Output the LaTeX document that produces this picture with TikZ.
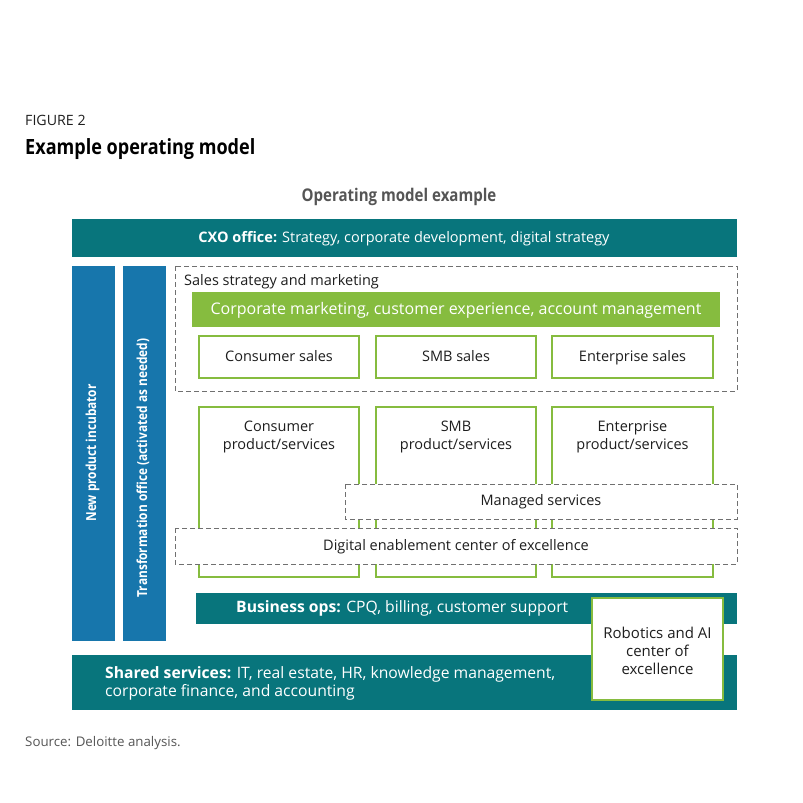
\documentclass[tikz,border=0pt]{standalone}
\usepackage{fontspec}
\setmainfont{Open Sans}
\newfontfamily\condb{Open Sans}[FakeStretch=0.86]
\usetikzlibrary{calc}
\definecolor{teal}{HTML}{08757C}
\definecolor{dblue}{HTML}{1776AC}
\definecolor{lgreen}{HTML}{86BC3F}
\definecolor{txt}{HTML}{1E1E1E}
\definecolor{gtxt}{HTML}{555555}
\definecolor{dash}{HTML}{707070}
\newcommand{\bl}[1]{{\bfseries #1}}
\tikzset{
  bar/.style={fill=teal, draw=none, text=white},
  vbar/.style={fill=dblue, draw=none, text=white},
  gbox/.style={draw=lgreen, line width=1.8pt, fill=white, text=txt},
  dbox/.style={draw=dash, dashed, dash pattern=on 5pt off 3pt, line width=0.9pt, fill=white, text=txt},
  lab/.style={font=\fontsize{14.5}{18}\selectfont, text=txt},
  one/.style={text height=1.0em, text depth=0.1em},
  vtext/.style={text=white, rotate=90, font=\fontsize{13.8}{17}\condb\bfseries, text height=0.75em, text depth=0.22em},
}
\begin{document}
\begin{tikzpicture}[x=1pt,y=-1pt]
\useasboundingbox (0,0) rectangle (803,803);
% titles
\node[anchor=west, inner sep=0, text=txt, font=\fontsize{14.2}{16}\selectfont, one] (fig) at (25,121) {FIGURE 2};
\node[anchor=west, inner sep=0, text=black, font=\fontsize{21}{25}\condb\bfseries, one] (title) at (25,150) {Example operating model};
\node[text=gtxt, font=\fontsize{17.5}{20}\condb\bfseries, one] (sub) at (399,197) {Operating model example};
% CXO
\path[bar] (72,219) rectangle (737,257);
\node[text=white, font=\fontsize{14.5}{17}\selectfont, one] (cxo) at (404,238) {\bl{CXO office:} Strategy, corporate development, digital strategy};
% vertical bars
\path[vbar] (72,266) rectangle (115,641);
\node[vtext] (npi) at (93.5,453) {New product incubator};
\path[vbar] (123,266) rectangle (166,641);
\node[vtext] (tro) at (144.5,468) {Transformation office (activated as needed)};
% sales dashed box
\path[dbox] (175,266) rectangle (737,391);
\node[anchor=west, inner sep=0, lab, one] (ssm) at (184,281) {Sales strategy and marketing};
\path[fill=lgreen] (192,292) rectangle (720,327);
\node[text=white, font=\fontsize{16}{19}\selectfont, one] (cm) at (456,310) {Corporate marketing, customer experience, account management};
% sales boxes
\path[gbox] (199,336) rectangle (359,378);
\node[lab, one] (cs) at (279,357) {Consumer sales};
\path[gbox] (376,336) rectangle (536,378);
\node[lab, one] (ss) at (456,357) {SMB sales};
\path[gbox] (552,336) rectangle (713,378);
\node[lab, one] (es) at (632.5,357) {Enterprise sales};
% product boxes
\path[gbox] (199,407) rectangle (359,577);
\node[lab, align=center] (cp) at (279,437) {Consumer\\product/services};
\path[gbox] (376,407) rectangle (536,577);
\node[lab, align=center] (sp) at (456,437) {SMB\\product/services};
\path[gbox] (552,407) rectangle (713,577);
\node[lab, align=center] (ep) at (632.5,437) {Enterprise\\product/services};
% managed services
\path[dbox] (345,484) rectangle (737,519);
\node[lab, one] (ms) at (541,501) {Managed services};
% digital enablement
\path[dbox] (175,528) rectangle (737,564);
\node[lab, one] (de) at (456,546) {Digital enablement center of excellence};
% business ops
\path[bar] (196,593) rectangle (737,624);
\node[anchor=west, inner sep=0, text=white, font=\fontsize{15.7}{17}\selectfont, one] (bo) at (236,607.5) {\bl{Business ops:} CPQ, billing, customer support};
% shared services
\path[bar] (72,655) rectangle (737,710);
\node[anchor=west, inner sep=0, text=white, align=left, font=\fontsize{15.7}{18.5}\selectfont] (sh) at (105,683.5) {\bl{Shared services:} IT, real estate, HR, knowledge management,\\corporate finance, and accounting};
% robotics
\path[gbox] (592,598) rectangle (723,700);
\node[lab, align=center, font=\fontsize{15}{18}\selectfont] (rob) at (657.5,651) {Robotics and AI\\center of\\excellence};
% source
\node[anchor=west, inner sep=0, text=gtxt, font=\fontsize{13.3}{15}\selectfont, one] (src) at (25,742) {Source: Deloitte analysis.};
\end{tikzpicture}
\end{document}
